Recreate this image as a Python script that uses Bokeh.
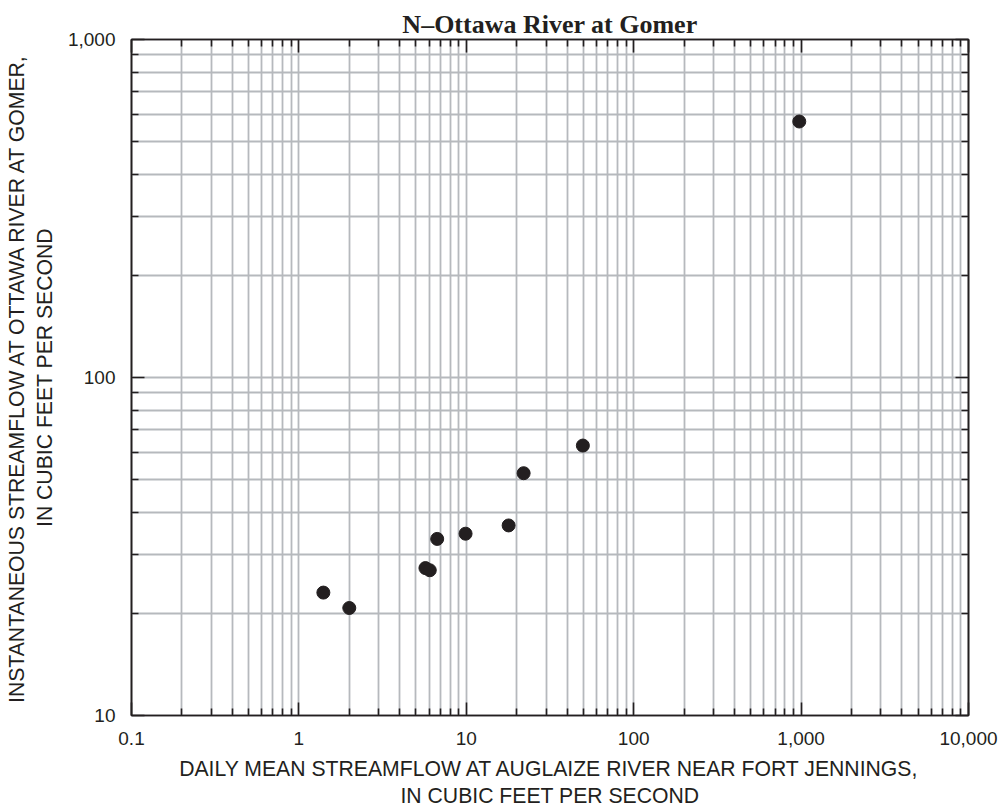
from bokeh.plotting import figure
from bokeh.models import LogAxis, FixedTicker, CustomJSTickFormatter, ColumnDataSource, Range1d
from bokeh.embed import file_html
from bokeh.resources import INLINE

# ---- data ----
x_flow = [1.4, 2.0, 5.7, 6.05, 6.7, 9.9, 17.9, 22.0, 49.7, 975.0]
y_flow = [23.1, 20.8, 27.3, 26.9, 33.3, 34.5, 36.5, 52.1, 62.9, 572.0]

x_ticks = [0.1, 1, 10, 100, 1000, 10000]
x_tick_labels = ["0.1", "1", "10", "100", "1,000", "10,000"]
y_ticks = [10, 100, 1000]
y_tick_labels = ["10", "100", "1,000"]

title_text = "N\u2013Ottawa River at Gomer"
x_title = "DAILY MEAN STREAMFLOW AT AUGLAIZE RIVER NEAR FORT JENNINGS,\nIN CUBIC FEET PER SECOND"
y_title = "INSTANTANEOUS STREAMFLOW AT OTTAWA RIVER AT GOMER,\nIN CUBIC FEET PER SECOND"


def minors(decades):
    return [d * m for d in decades[:-1] for m in range(2, 10)]


x_minor = minors(x_ticks)
y_minor = minors(y_ticks)

GRID = "#b6b9bd"
INK = "#231f20"
FONT = "Liberation Sans"

p = figure(width=1005, height=812, x_axis_type="log", y_axis_type="log",
           x_range=Range1d(0.1, 10000), y_range=Range1d(10, 1000),
           output_backend="svg", toolbar_location=None,
           min_border_left=131, min_border_right=37,
           min_border_top=39, min_border_bottom=97)

p.background_fill_color = "white"
p.border_fill_color = "white"
p.outline_line_color = INK
p.outline_line_width = 1.6

# title
p.title.text = title_text
p.title.align = "center"
p.title.text_font = "Liberation Serif"
p.title.text_font_style = "bold"
p.title.text_font_size = "26px"
p.title.text_color = INK
p.title.offset = -8
p.title.standoff = 2


def fmt(vals, labs):
    return CustomJSTickFormatter(args=dict(vals=vals, labs=labs), code="""
        for (let i = 0; i < vals.length; i++) {
            if (Math.abs(Math.log10(tick) - Math.log10(vals[i])) < 1e-6) return labs[i];
        }
        return '';
    """)


def style_axis(ax, ticks, minor, labels=None):
    ax.ticker = FixedTicker(ticks=ticks, minor_ticks=minor)
    ax.axis_line_color = INK
    ax.axis_line_width = 1.6
    ax.major_tick_line_color = INK
    ax.minor_tick_line_color = INK
    ax.major_tick_line_width = 1.6
    ax.minor_tick_line_width = 1.6
    ax.major_tick_in = 13
    ax.major_tick_out = 0
    ax.minor_tick_in = 7
    ax.minor_tick_out = 0
    if labels is None:
        ax.major_label_text_font_size = "0px"
        ax.major_label_standoff = 0
        ax.formatter = fmt(ticks, ["" for _ in ticks])
    else:
        ax.formatter = fmt(ticks, labels)
        ax.major_label_text_font = FONT
        ax.major_label_text_font_size = "19px"
        ax.major_label_text_color = INK
        ax.major_label_standoff = 16
        ax.axis_label_text_font = FONT
        ax.axis_label_text_font_size = "21.2px"
        ax.axis_label_text_font_style = "normal"
        ax.axis_label_text_color = INK


style_axis(p.xaxis[0], x_ticks, x_minor, x_tick_labels)
style_axis(p.yaxis[0], y_ticks, y_minor, y_tick_labels)
p.xaxis[0].axis_label = x_title
p.xaxis[0].axis_label_standoff = 9
p.yaxis[0].axis_label = y_title
p.yaxis[0].axis_label_standoff = 9

top_ax = LogAxis()
style_axis(top_ax, x_ticks, x_minor)
p.add_layout(top_ax, "above")
right_ax = LogAxis()
style_axis(right_ax, y_ticks, y_minor)
p.add_layout(right_ax, "right")

# grids
p.xgrid.ticker = FixedTicker(ticks=x_ticks, minor_ticks=x_minor)
p.ygrid.ticker = FixedTicker(ticks=y_ticks, minor_ticks=y_minor)
for g in (p.xgrid[0], p.ygrid[0]):
    g.grid_line_color = GRID
    g.grid_line_width = 1.8
    g.minor_grid_line_color = GRID
    g.minor_grid_line_width = 1.8

src = ColumnDataSource(data=dict(x=x_flow, y=y_flow))
p.scatter("x", "y", source=src, size=13, marker="circle",
          fill_color=INK, line_color=INK)

open("out.html", "w").write(file_html(p, INLINE))
